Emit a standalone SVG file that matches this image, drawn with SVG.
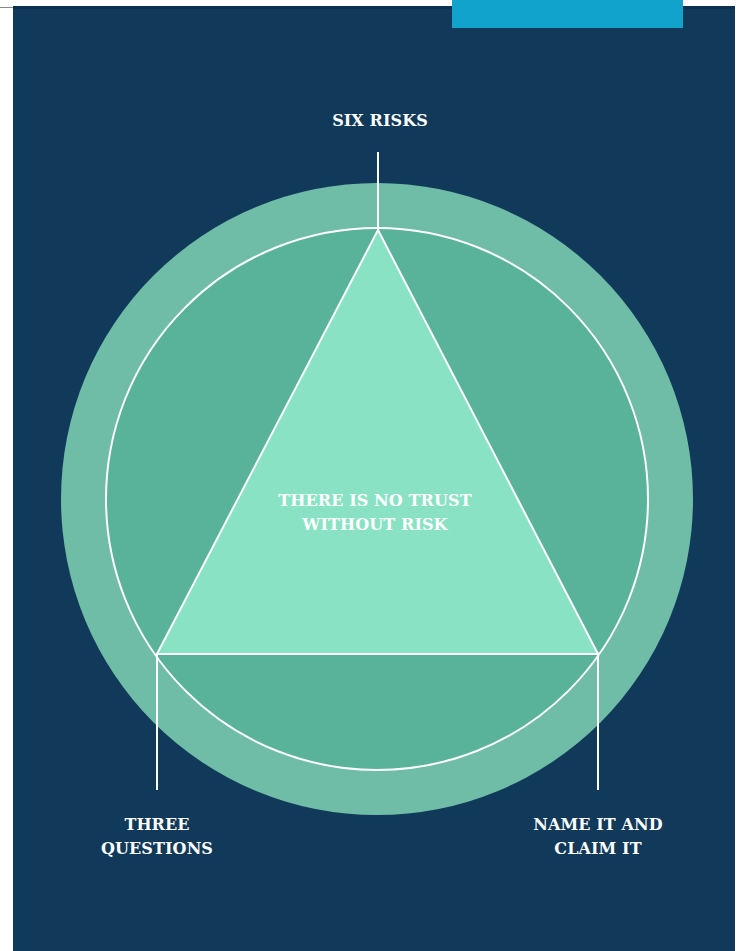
<svg xmlns="http://www.w3.org/2000/svg" width="740" height="951" viewBox="0 0 740 951">
<style>
.lbl{font-family:"DejaVu Serif","Liberation Serif",serif;font-weight:bold;font-size:16px;fill:#ffffff;text-anchor:middle;letter-spacing:0.1px}
.ln{stroke:#ffffff;stroke-width:2;fill:none}
</style>
<rect x="0" y="0" width="740" height="951" fill="#ffffff"/>
<line x1="0" y1="7.5" x2="13" y2="7.5" stroke="#888888" stroke-width="1"/>
<rect x="13" y="6" width="722" height="945" fill="#10395a"/>
<rect x="13" y="6" width="722" height="3" fill="#0d3050"/>
<rect x="452" y="0" width="231" height="28" fill="#12a3cc"/>
<g id="outer-ring"><circle cx="377" cy="499" r="316" fill="#6fbca7"/></g>
<g id="inner-circle"><circle cx="377" cy="499" r="271" fill="#58b39a" stroke="#ffffff" stroke-width="2"/></g>
<g id="triangle"><polygon points="378,230 157,654 598,654" fill="#8ae2c4" stroke="#ffffff" stroke-width="2" stroke-linejoin="round"/></g>
<g id="connectors">
<line class="ln" x1="378" y1="152" x2="378" y2="230"/>
<line class="ln" x1="157" y1="654" x2="157" y2="790"/>
<line class="ln" x1="598" y1="654" x2="598" y2="790"/>
</g>
<g id="six-risks"><text class="lbl" x="380" y="126">SIX RISKS</text></g>
<g id="center"><text class="lbl" x="375" y="506">THERE IS NO TRUST</text><text class="lbl" x="375" y="530">WITHOUT RISK</text></g>
<g id="three-questions"><text class="lbl" x="157" y="830">THREE</text><text class="lbl" x="157" y="854">QUESTIONS</text></g>
<g id="name-it"><text class="lbl" x="598" y="830">NAME IT AND</text><text class="lbl" x="598" y="854">CLAIM IT</text></g>
</svg>
